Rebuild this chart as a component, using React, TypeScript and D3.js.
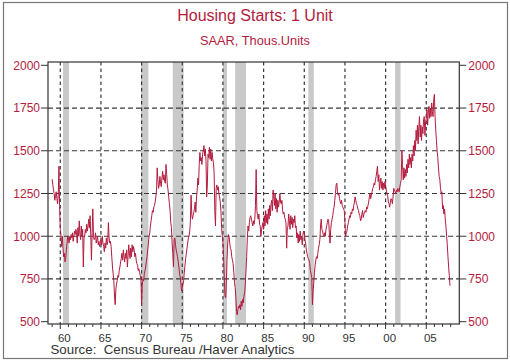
import React from "react";
import * as d3 from "d3";

// Monthly single-family housing starts, SAAR, thous. units (Jan..Dec per year)
const starts1959to1969: number[] = [
  1334, 1300, 1270, 1250, 1210, 1240, 1260, 1220, 1190, 1240, 1410, 1180,
  1040, 1010, 940, 1000, 930, 880, 900, 850, 870, 920, 960, 1000,
  990, 960, 1000, 980, 1010, 990, 1020, 970, 1000, 1030, 1010, 1040,
  1020, 960, 1050, 1000, 1090, 1010, 980, 1060, 1000, 1040, 820, 990,
  1000, 1040, 1020, 1070, 1030, 1060, 1100, 1050, 1120, 1000, 860, 1020,
  1160, 1000, 980, 990, 1020, 960, 980, 1000, 950, 970, 940, 960,
  980, 950, 1000, 960, 940, 910, 960, 930, 990, 950, 970, 1080,
  990, 960, 970, 940, 880, 820, 780, 740, 650, 600, 690, 720,
  740, 770, 760, 800, 820, 850, 870, 900, 860, 920, 880, 850,
  900, 870, 920, 820, 880, 950, 900, 870, 930, 880, 950, 910,
  940, 920, 880, 900, 860, 840, 830, 800, 810, 790, 770, 750,
];
const starts1970s: number[] = [
  600, 720, 750, 740, 780, 800, 820, 850, 880, 920, 960, 1000,
  1020, 1060, 1090, 1120, 1150, 1140, 1170, 1180, 1200, 1230, 1270, 1400,
  1330, 1280, 1300, 1350, 1310, 1290, 1340, 1380, 1330, 1360, 1320, 1310,
  1420, 1360, 1300, 1270, 1230, 1190, 1150, 1080, 1050, 960, 900, 820,
  980, 990, 950, 920, 900, 880, 850, 820, 780, 760, 720, 680,
  700, 720, 740, 790, 830, 870, 900, 930, 960, 990, 1000, 1030,
  1090, 1240, 1130, 1100, 1120, 1140, 1160, 1200, 1140, 1230, 1270, 1340,
  1300, 1420, 1490, 1440, 1460, 1420, 1480, 1500, 1530, 1470, 1510, 1440,
  1230, 1300, 1480, 1460, 1520, 1450, 1510, 1440, 1490, 1450, 1430, 1370,
  1150, 1060, 1280, 1300, 1270, 1290, 1250, 1230, 1200, 1150, 1050, 1000,
];
const starts1980s: number[] = [
  960, 880, 760, 650, 640, 720, 860, 960, 1010, 1000, 960, 930,
  920, 880, 860, 840, 790, 730, 700, 650, 560, 540, 570, 590,
  580, 600, 570, 620, 590, 630, 610, 650, 670, 720, 800, 880,
  990, 1060, 1030, 1080, 1110, 1120, 1100, 1080, 1060, 1090, 1070, 1100,
  1180, 1390, 1150, 1120, 1100, 1130, 1070, 1060, 1000, 1040, 1060, 1080,
  1040, 1120, 1060, 1150, 1080, 1130, 1070, 1160, 1100, 1180, 1120, 1190,
  1210, 1150, 1270, 1230, 1180, 1250, 1160, 1220, 1140, 1210, 1170, 1200,
  1250, 1200, 1190, 1210, 1150, 1130, 1140, 1110, 1100, 1080, 930, 1050,
  1060, 1130, 1090, 1040, 1120, 1070, 1110, 1050, 1100, 1080, 1120, 1050,
  1060, 990, 1020, 960, 1010, 970, 1030, 980, 1000, 950, 1010, 1030,
];
const starts1990s: number[] = [
  1020, 980, 960, 920, 900, 880, 870, 860, 840, 800, 780, 760,
  600, 680, 730, 790, 830, 860, 880, 870, 900, 930, 950, 980,
  1060, 1100, 1040, 1030, 1010, 1000, 1020, 1000, 1040, 1060, 1080, 1100,
  1090, 1020, 960, 1040, 1080, 1100, 1120, 1150, 1170, 1210, 1250, 1300,
  1310, 1260, 1240, 1250, 1220, 1200, 1190, 1210, 1180, 1170, 1160, 1150,
  1080, 1000, 1020, 1030, 1060, 1080, 1100, 1120, 1110, 1140, 1130, 1160,
  1150, 1180, 1200, 1230, 1210, 1190, 1180, 1160, 1150, 1130, 1120, 1090,
  1100, 1130, 1150, 1110, 1130, 1140, 1150, 1140, 1170, 1160, 1180, 1200,
  1230, 1250, 1220, 1240, 1260, 1280, 1290, 1310, 1300, 1330, 1350, 1380,
  1410, 1320, 1360, 1270, 1310, 1340, 1280, 1320, 1270, 1310, 1280, 1320,
];
const starts2000s: number[] = [
  1290, 1270, 1250, 1240, 1200, 1190, 1170, 1200, 1220, 1210, 1190, 1230,
  1280, 1270, 1260, 1250, 1270, 1260, 1280, 1270, 1260, 1290, 1310, 1330,
  1500, 1420, 1330, 1400, 1340, 1390, 1350, 1420, 1370, 1450, 1400, 1480,
  1420, 1460, 1400, 1480, 1440, 1530, 1470, 1560, 1500, 1620, 1560, 1650,
  1540, 1640, 1700, 1580, 1650, 1560, 1640, 1600, 1680, 1700, 1590, 1670,
  1690, 1740, 1650, 1720, 1760, 1690, 1750, 1700, 1780, 1730, 1700, 1800,
  1830, 1700, 1620, 1560, 1500, 1460, 1400, 1350, 1330, 1280, 1250, 1260,
  1160, 1180, 1130, 1160, 1100, 1060, 1000, 950, 880, 820, 770, 710,
];
const firstYear = 1959;

// NBER recessions: [start, end] as fractional years
const recessions: [number, number][] = [
  [1960.33, 1961.08],
  [1969.92, 1970.83],
  [1973.83, 1975.17],
  [1980.0, 1980.5],
  [1981.5, 1982.83],
  [1990.5, 1991.17],
  [2001.17, 2001.83],
];

const yTicks = [500, 750, 1000, 1250, 1500, 1750, 2000];
const yGrid = [750, 1000, 1250, 1500, 1750];
const xMajorYears = [1960, 1965, 1970, 1975, 1980, 1985, 1990, 1995, 2000, 2005];
const xLabels = ["60", "65", "70", "75", "80", "85", "90", "95", "00", "05"];
const minorYears = d3.range(1959, 2009);

const title = "Housing Starts: 1 Unit";
const subtitle = "SAAR, Thous.Units";
const source = "Source:  Census Bureau /Haver Analytics";

const RED = "#b31b3e";
const FONT = "'Liberation Sans', Arial, sans-serif";

export default function App() {
  const all = [...starts1959to1969, ...starts1970s, ...starts1980s, ...starts1990s, ...starts2000s];
  const pts = all.map((v, i) => ({ t: firstYear + i / 12, v }));

  const left = 48, right = 459.3, top = 62, bottom = 324;
  const x = d3.scaleLinear().domain([1958.49, 2009.06]).range([left, right]);
  const y = d3.scaleLinear().domain([500, 2000]).range([321.7, 65.3]);

  const line = d3.line<{ t: number; v: number }>().x((d) => x(d.t)).y((d) => y(d.v));

  return (
    <svg width={510} height={363} style={{ position: "absolute", left: 0, top: 0, background: "#fff" }} fontFamily={FONT}>
      <rect x={3.5} y={2.5} width={504} height={356} fill="#fff" stroke="#777" strokeWidth={1.2} />
      <text x={255} y={21} textAnchor="middle" fontSize={16} fill={RED}>{title}</text>
      <text x={255} y={44.5} textAnchor="middle" fontSize={12.8} fill={RED}>{subtitle}</text>

      {recessions.map(([a, b], i) => (
        <rect key={i} x={x(a)} y={top} width={x(b) - x(a)} height={bottom - top} fill="#c9c9c9" />
      ))}

      {yGrid.map((v) => (
        <line key={v} x1={left} x2={right} y1={y(v)} y2={y(v)} stroke="#3a3a3a" strokeWidth={1.2} strokeDasharray="5,3" />
      ))}
      {xMajorYears.map((yr) => (
        <line key={yr} x1={x(yr)} x2={x(yr)} y1={top} y2={bottom} stroke="#3a3a3a" strokeWidth={1.2} strokeDasharray="3.5,3" />
      ))}

      <path d={line(pts) ?? ""} fill="none" stroke={RED} strokeWidth={1} strokeLinejoin="round" />

      <rect x={left} y={top} width={right - left} height={bottom - top} fill="none" stroke="#333" strokeWidth={1.2} />

      {yTicks.map((v) => (
        <g key={v}>
          <line x1={left - 7} x2={left} y1={y(v)} y2={y(v)} stroke="#333" strokeWidth={1} />
          <line x1={right} x2={right + 7} y1={y(v)} y2={y(v)} stroke="#333" strokeWidth={1} />
          <text x={left - 8} y={y(v) + 4.3} textAnchor="end" fontSize={12} fill={RED}>{v}</text>
          <text x={right + 9} y={y(v) + 4.3} textAnchor="start" fontSize={12} fill={RED}>{v}</text>
        </g>
      ))}

      {minorYears.map((yr) => (
        <line key={yr} x1={x(yr)} x2={x(yr)} y1={bottom} y2={bottom + (yr % 5 === 0 ? 5 : 3)} stroke="#333" strokeWidth={1} />
      ))}
      {xMajorYears.map((yr, i) => (
        <text key={yr} x={x(yr + 0.5)} y={341.5} textAnchor="middle" fontSize={11.5} fill="#333">{xLabels[i]}</text>
      ))}

      <text x={50.5} y={354} fontSize={13.3} fill="#333" style={{ whiteSpace: "pre" }}>{source}</text>
    </svg>
  );
}
